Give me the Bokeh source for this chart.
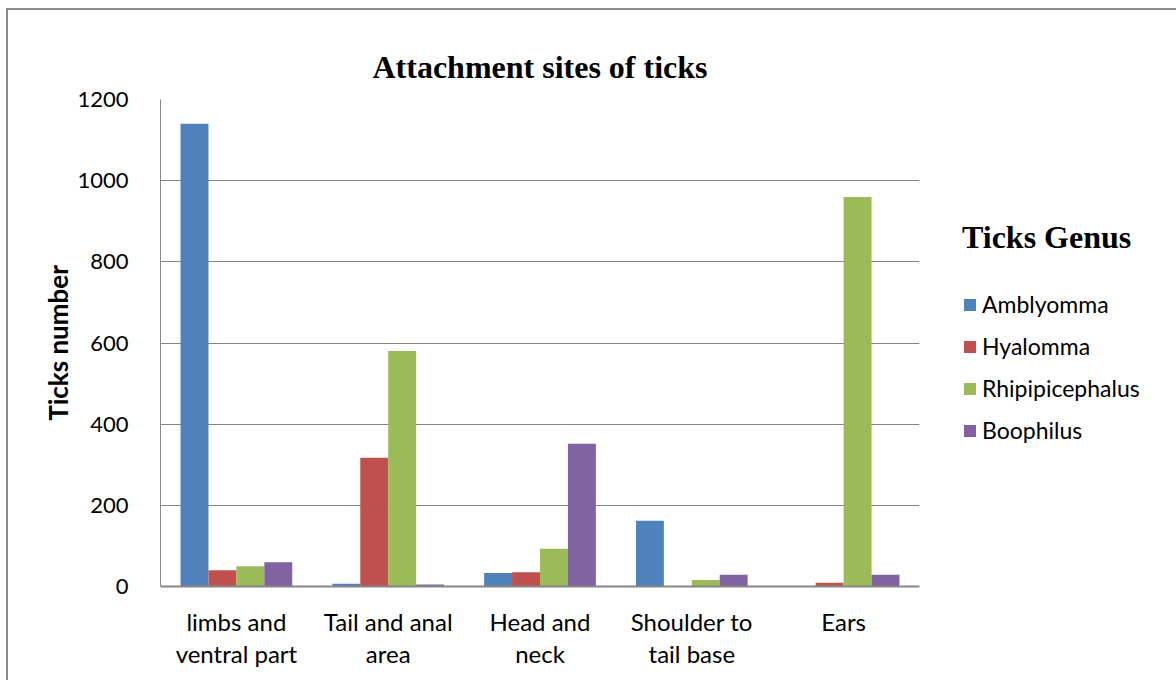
from bokeh.plotting import figure
from bokeh.models import (ColumnDataSource, FactorRange, FixedTicker, Legend, LegendItem)
from bokeh.transform import dodge
from bokeh.embed import file_html
from bokeh.resources import INLINE

categories = ["limbs and\nventral part", "Tail and anal\narea", "Head and\nneck",
              "Shoulder to\ntail base", "Ears"]
amblyomma = [1140, 7, 33, 162, 0]
hyalomma = [40, 317, 35, 0, 9]
rhipicephalus = [50, 580, 93, 16, 960]
boophilus = [60, 5, 352, 29, 29]
series_names = ["Amblyomma", "Hyalomma", "Rhipipicephalus", "Boophilus"]
y_ticks = [0, 200, 400, 600, 800, 1000, 1200]

colors = ["#4F81BD", "#C0504D", "#9BBB59", "#8064A2"]

src = ColumnDataSource(dict(cat=categories, amb=amblyomma, hya=hyalomma,
                            rhi=rhipicephalus, boo=boophilus))

p = figure(x_range=FactorRange(*categories), y_range=(0, 1200),
           frame_width=759, frame_height=487, output_backend="svg", toolbar_location=None,
           min_border_left=152, min_border_right=249, min_border_top=89,
           min_border_bottom=94)
p.styles = {"border-top": "2px solid #8c8c8c", "border-left": "2px solid #8c8c8c",
            "margin-left": "6px", "margin-top": "8px"}
p.outline_line_color = None

bw = 0.184
offs = [-1.5 * bw, -0.5 * bw, 0.5 * bw, 1.5 * bw]
fields = ["amb", "hya", "rhi", "boo"]
rends = []
for f, o, c in zip(fields, offs, colors):
    r = p.vbar(x=dodge("cat", o, range=p.x_range), top=f, width=bw, source=src,
               fill_color=c, line_color=None)
    rends.append(r)

p.title.text = "Attachment sites of ticks"
p.title.align = "center"
p.title.text_font = "Liberation Serif"
p.title.text_font_style = "bold"
p.title.text_font_size = "32px"
p.title.text_color = "black"
p.title.standoff = 30

p.xgrid.grid_line_color = None
p.ygrid.grid_line_color = "#868686"
p.ygrid.grid_line_width = 1
p.yaxis.ticker = FixedTicker(ticks=y_ticks)

for ax in (p.xaxis[0], p.yaxis[0]):
    ax.axis_line_color = "#868686"
    ax.major_tick_line_color = None
    ax.minor_tick_line_color = None
    ax.major_tick_out = 0
    ax.major_tick_in = 0
    ax.major_label_text_font = "Lato"
    ax.major_label_text_color = "black"

p.yaxis.major_label_text_font_size = "22px"
p.xaxis.major_label_text_font_size = "24px"
p.xaxis.axis_line_width = 2
p.xaxis.major_label_standoff = 20
p.xaxis.major_label_text_line_height = 1.12
p.yaxis.major_label_standoff = 32
p.yaxis.axis_label = "Ticks number"
p.yaxis.axis_label_text_font = "Lato"
p.yaxis.axis_label_text_font_style = "bold"
p.yaxis.axis_label_text_font_size = "26px"
p.yaxis.axis_label_text_color = "black"
p.yaxis.axis_label_standoff = 0

items = [LegendItem(label=n, renderers=[r]) for n, r in zip(series_names, rends)]
legend = Legend(items=items, location=(43, 142), title="Ticks Genus",
                title_text_font="Liberation Serif", title_text_font_style="bold",
                title_text_font_size="32px", title_text_color="black",
                title_standoff=34, label_text_font="Lato", label_text_font_size="23px",
                label_text_color="black", glyph_width=15, glyph_height=15,
                label_standoff=5, spacing=14, padding=0, margin=0,
                border_line_color=None, background_fill_alpha=0)
p.add_layout(legend, "right")

open("out.html", "w").write(file_html(p, INLINE))
